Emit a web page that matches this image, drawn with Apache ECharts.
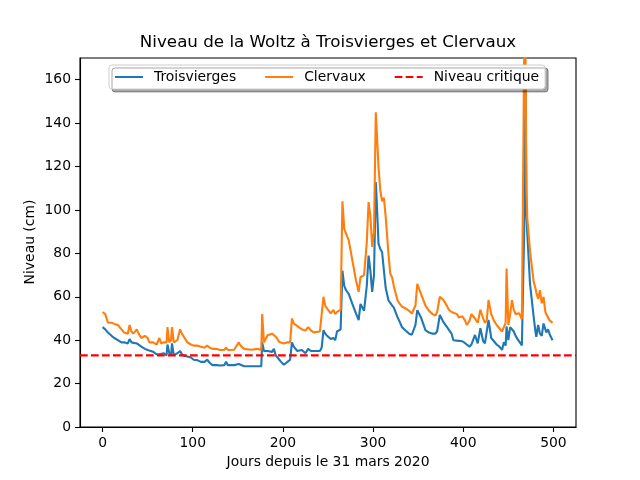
<!DOCTYPE html>
<html>
<head>
<meta charset="utf-8">
<script src="https://cdn.jsdelivr.net/npm/echarts@6/dist/echarts.min.js"></script>
<style>
  html, body { margin: 0; padding: 0; background: #fff; }
  #main { width: 640px; height: 480px; }
</style>
</head>
<body>
<div id="main"></div>
<script>
// days since 31 March 2020
const jours = [
  0, 3, 6, 10, 13, 17, 21, 24, 28, 30, 32, 34, 38, 40, 43, 47, 50, 52, 56, 60,
  63, 65, 68, 71, 72, 74, 76, 77, 79, 83, 86, 88, 91, 94, 98, 101, 105, 109, 113, 116,
  119, 122, 127, 130, 135, 137, 139, 146, 151, 153, 157, 165, 172, 176, 177, 179, 183, 188, 190, 192,
  196, 198, 201, 205, 208, 210, 212, 216, 218, 221, 225, 228, 231, 234, 241, 243, 245, 247, 249, 253,
  256, 258, 260, 264, 266, 268, 270, 273, 277, 281, 284, 286, 290, 293, 295, 297, 299, 301, 303, 304,
  306, 308, 310, 312, 314, 317, 319, 321, 323, 327, 330, 332, 336, 340, 343, 347, 349, 353, 358, 362,
  366, 369, 371, 374, 376, 378, 382, 384, 387, 389, 393, 395, 399, 402, 404, 407, 409, 413, 416, 419,
  422, 424, 426, 428, 431, 434, 437, 440, 443, 445, 447, 448, 450, 452, 454, 456, 458, 460, 462, 465,
  467, 468, 469, 470, 471, 474, 478, 480, 481, 483, 485, 487, 489, 491, 492, 494, 496, 499
];
const troisvierges = [
  46, 45, 43.5, 42, 41, 40, 39, 39, 38.5, 40.5, 39, 39, 38.5, 38, 37, 36, 35.5, 35.5, 34.7, 33.5,
  33.5, 33, 34, 33, 38, 34, 33, 38.5, 33, 34, 35, 33.5, 32.7, 32.5, 32, 31, 30.8, 30, 30, 31,
  29.5, 28.5, 28.5, 28.3, 28.5, 30, 28.5, 28.5, 29, 28.5, 28, 28, 28, 28, 39, 35, 35, 34.6, 36, 33,
  31, 30, 28.7, 30, 31, 39, 37, 35, 35.5, 35.5, 34, 36, 35, 35, 35, 36.6, 44.6, 43, 42, 40.5,
  41, 40, 44, 45, 72, 65, 63, 61.3, 56.7, 52.3, 49.2, 56.7, 53.6, 65, 79, 72, 62.2, 70, 112.8, 104.4,
  84.5, 82, 80.5, 72, 64, 58.4, 57.5, 56, 55, 50.6, 48, 46, 44.5, 43, 42.5, 47, 53.8, 50.6, 44.6, 43.5,
  43, 43, 44, 51.6, 50, 48.3, 46, 45.5, 43, 40, 39.8, 40.2, 39.5, 38.6, 38, 37, 38, 42.4, 38.5, 45.5,
  39.6, 38.5, 38, 49.3, 41, 39.5, 38, 37, 35.5, 39, 37.5, 46.3, 40, 46, 45.8, 44, 42, 40.6, 40, 37.6,
  38, 100, 165, 100, 89, 66, 51, 44, 41.5, 47, 43, 42, 47.7, 45, 43.5, 45, 42.5, 40
];
const clervaux = [
  53, 52, 48, 48, 47.5, 47, 45, 43.5, 43, 47, 44, 43, 45, 43, 41, 42, 41, 39, 39, 38,
  41, 38.5, 39, 39, 46, 39, 40, 46, 39, 40, 45, 43, 41, 39, 38, 37.5, 37.5, 37, 36.5, 37.5,
  36.5, 36, 36, 35.5, 35.5, 36.5, 35.5, 35.6, 39, 37.5, 36, 35.6, 36, 35.5, 52, 39, 42.3, 43, 42.5, 41.6,
  39.2, 38.5, 38.5, 39, 39, 50, 47.7, 46.5, 46, 45, 44.4, 46, 44.5, 43.6, 44, 44.5, 60, 55.7, 55, 52.3,
  54, 52, 53, 54, 104, 91.3, 91, 86, 76.8, 67.6, 62.2, 69, 70, 85, 103.6, 97, 83, 90, 145, 137,
  119.7, 109, 104, 105.6, 96.7, 80, 70.7, 69, 65, 58.4, 56.5, 55.5, 54.6, 53.5, 52.3, 56, 66, 61.4, 56, 53.5,
  52, 51.4, 53, 60, 60, 58.5, 55.7, 54, 53, 52.4, 52, 50.5, 51, 49, 47, 49, 52, 50, 48, 54,
  50, 48, 49, 58.5, 52, 49, 47, 45.5, 44, 46, 48, 73, 47, 52, 58.4, 54, 52, 52.7, 52.4, 49.6,
  50, 195, 175, 110, 96, 81, 67, 64, 62, 59, 63, 57, 60, 53, 52, 52, 49, 48
];
const niveauCritique = 33;
const xTicks = [0, 100, 200, 300, 400, 500];
const yTicks = [0, 20, 40, 60, 80, 100, 120, 140, 160];
const xMin = -25, xMax = 525;

const font = 'DejaVu Sans';
const chart = echarts.init(document.getElementById('main'), null, { renderer: 'canvas' });

const axisCommon = {
  axisLine: { show: true, onZero: false, lineStyle: { color: '#000', width: 1.1 } },
  axisTick: { show: true, inside: false, length: 5, lineStyle: { color: '#000', width: 1.1 } },
  splitLine: { show: false },
};

const option = {
  animation: false,
  backgroundColor: '#fff',
  grid: {
    left: 80, right: 64, top: 58, bottom: 53,
    show: true, borderColor: '#000', borderWidth: 1.1, backgroundColor: 'transparent'
  },
  graphic: [
    {
      type: 'text', x: 328, y: 43,
      style: {
        text: 'Niveau de la Woltz à Troisvierges et Clervaux',
        font: '16.7px "DejaVu Sans"', fill: '#000',
        textAlign: 'center', textVerticalAlign: 'middle'
      }
    },
    {
      type: 'text', x: 328, y: 462,
      style: {
        text: 'Jours depuis le 31 mars 2020',
        font: '13.9px "DejaVu Sans"', fill: '#000',
        textAlign: 'center', textVerticalAlign: 'middle'
      }
    },
    {
      type: 'text', x: 30, y: 242, rotation: Math.PI / 2,
      style: {
        text: 'Niveau (cm)',
        font: '13.9px "DejaVu Sans"', fill: '#000',
        textAlign: 'center', textVerticalAlign: 'middle'
      }
    }
  ],
  legend: {
    left: 109, top: 65,
    padding: [5, 6, 5, 5],
    itemWidth: 28, itemHeight: 14, itemGap: 28,
    backgroundColor: '#fff',
    borderColor: '#cccccc', borderWidth: 1, borderRadius: 3,
    shadowColor: 'rgba(0,0,0,0.35)', shadowBlur: 0, shadowOffsetX: 3, shadowOffsetY: 3,
    selectedMode: false,
    itemStyle: { opacity: 0, borderWidth: 0 },
    textStyle: { fontFamily: font, fontSize: 13.9, color: '#000', padding: [0, 0, 0, 6] },
    data: ['Troisvierges', 'Clervaux', 'Niveau critique']
  },
  xAxis: Object.assign({}, axisCommon, {
    type: 'value', min: xMin, max: xMax,
    axisTick: Object.assign({}, axisCommon.axisTick, { customValues: xTicks }),
    axisLabel: { customValues: xTicks, margin: 9, fontFamily: font, fontSize: 13.9, color: '#000' }
  }),
  yAxis: Object.assign({}, axisCommon, {
    type: 'value', min: 0, max: 170,
    axisTick: Object.assign({}, axisCommon.axisTick, { customValues: yTicks }),
    axisLabel: { customValues: yTicks, margin: 9, fontFamily: font, fontSize: 13.9, color: '#000' }
  }),
  series: [
    {
      name: 'Troisvierges', type: 'line', symbol: 'none', clip: true,
      lineStyle: { color: '#1f77b4', width: 2.1 }, itemStyle: { color: '#1f77b4' },
      data: jours.map((d, i) => [d, troisvierges[i]])
    },
    {
      name: 'Clervaux', type: 'line', symbol: 'none', clip: true,
      lineStyle: { color: '#ff7f0e', width: 2.1 }, itemStyle: { color: '#ff7f0e' },
      data: jours.map((d, i) => [d, clervaux[i]])
    },
    {
      name: 'Niveau critique', type: 'line', symbol: 'none', clip: true,
      lineStyle: { color: '#ff0000', width: 2.1, type: [7.7, 3.3] }, itemStyle: { color: '#ff0000' },
      data: [[xMin, niveauCritique], [xMax, niveauCritique]]
    }
  ]
};

chart.setOption(option);
</script>
</body>
</html>
